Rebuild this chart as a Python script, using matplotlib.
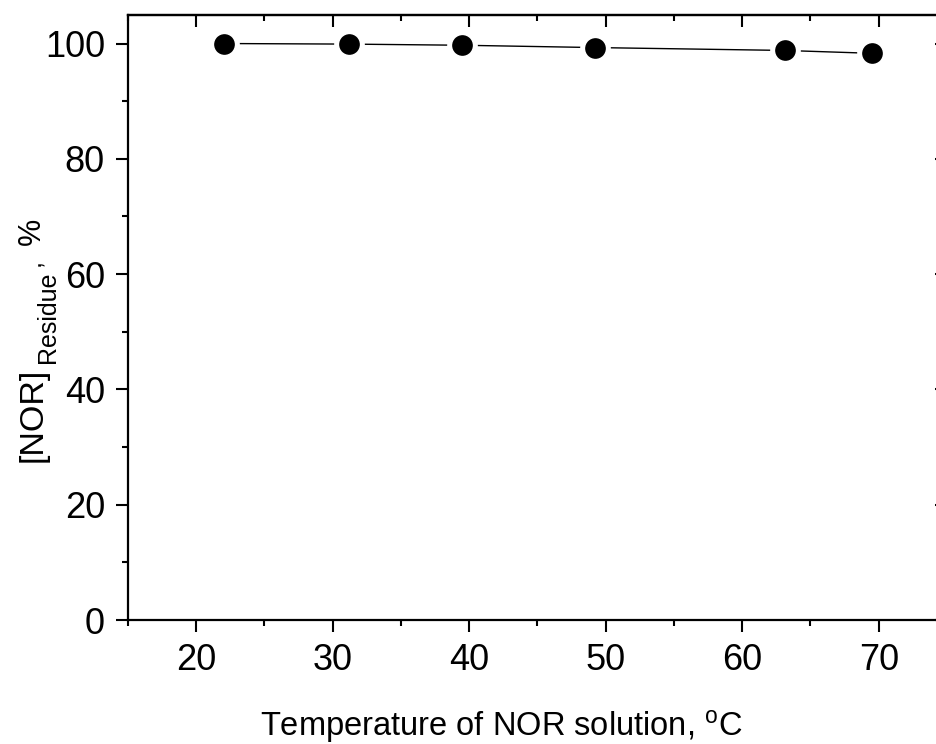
import matplotlib
matplotlib.use("Agg")
import matplotlib.pyplot as plt
from matplotlib.ticker import MultipleLocator

plt.rcParams['font.family'] = ['Liberation Sans', 'DejaVu Sans']
plt.rcParams['mathtext.fontset'] = 'custom'
plt.rcParams['mathtext.rm'] = 'Liberation Sans'
plt.rcParams['mathtext.it'] = 'Liberation Sans:italic'

temperature = [22.0, 31.2, 39.5, 49.2, 63.1, 69.5]
residue = [100.0, 99.9, 99.7, 99.3, 98.8, 98.3]
xticks = [20, 30, 40, 50, 60, 70]
yticks = [0, 20, 40, 60, 80, 100]

W, H = 937, 744
fig = plt.figure(figsize=(W/100, H/100), dpi=100)
ax = fig.add_axes([128/W, 124/H, 819/W, (620-14.7)/H])

ax.plot(temperature, residue, color='black', lw=1.0, marker='o',
        markersize=18.5, markerfacecolor='black', markeredgecolor='white',
        markeredgewidth=3.6, zorder=3, clip_on=False)

ax.set_xlim(15, 75)
ax.set_ylim(0, 105)
ax.set_xticks(xticks)
ax.set_yticks(yticks)
ax.xaxis.set_minor_locator(MultipleLocator(5))
ax.yaxis.set_minor_locator(MultipleLocator(10))

for s in ax.spines.values():
    s.set_linewidth(1.6)

ax.tick_params(which='both', direction='out', width=1.5, labelsize=26, pad=8)
ax.tick_params(which='major', length=8.6)
ax.tick_params(which='minor', length=4.3)

# top and right axes with inward ticks, no labels
secx = ax.secondary_xaxis('top')
secx.set_xticks(xticks)
secx.xaxis.set_minor_locator(MultipleLocator(5))
secx.tick_params(which='both', direction='in', width=1.5, labeltop=False)
secx.tick_params(which='major', length=8.6)
secx.tick_params(which='minor', length=4.3)
secx.spines['top'].set_linewidth(1.6)

secy = ax.secondary_yaxis('right')
secy.set_yticks(yticks)
secy.yaxis.set_minor_locator(MultipleLocator(10))
secy.tick_params(which='both', direction='in', width=1.5, labelright=False)
secy.tick_params(which='major', length=8.6)
secy.tick_params(which='minor', length=4.3)
secy.spines['right'].set_linewidth(1.6)

fig.text(260/W, 1-736/H, 'Temperature of NOR solution, $^{\\mathrm{o}}$C',
         fontsize=23.5, ha='left', va='baseline')

# y label pieces: [NOR] with subscript Residue, then ", %"
kw = dict(rotation=90, rotation_mode='anchor', ha='left', va='baseline')
fig.text(42/W, 1-462/H, '[NOR]', fontsize=24.5, **kw)
fig.text(55/W, 1-363/H, 'Residue', fontsize=18, **kw)
fig.text(40/W, 1-266/H, ',', fontsize=18, **kw)
fig.text(40/W, 1-245/H, '%', fontsize=22, **kw)

fig.savefig('out.png', dpi=100)
